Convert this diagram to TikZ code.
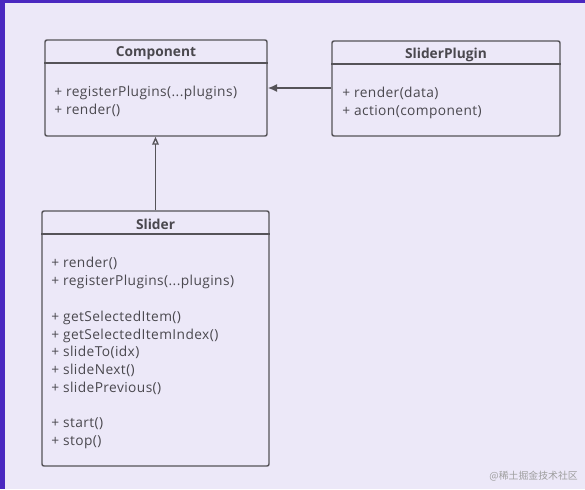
\documentclass[tikz,border=0pt]{standalone}
\usepackage{fontspec}
\setmainfont{Open Sans}
\newfontfamily\memfont[LetterSpace=3]{Open Sans}
\newfontfamily\cjk{Noto Sans CJK SC}
\usetikzlibrary{arrows.meta}
\definecolor{bg}{HTML}{ECE8F8}
\definecolor{frame}{HTML}{4A28C0}
\definecolor{ln}{HTML}{555358}
\definecolor{tx}{HTML}{4A484E}
\tikzset{
  cls/.style={draw=ln, line width=1.1pt, rounded corners=1.5pt, fill=bg},
  ttl/.style={font=\bfseries\fontsize{10.3pt}{12pt}\selectfont, text=tx, inner sep=0pt},
  mem/.style={font=\memfont\fontsize{10.3pt}{12pt}\selectfont, text=tx, anchor=west, inner sep=0pt, text height=7pt, text depth=2pt},
  conn/.style={draw=ln, line width=1.1pt},
}
\begin{document}
\begin{tikzpicture}[x=0.75pt,y=-0.75pt]
\useasboundingbox (0,0) rectangle (585,489);
\fill[bg] (0,0) rectangle (585,489);
\fill[frame] (0,0) rectangle (5,489);
\fill[frame] (0,0) rectangle (585,2.5);
% boxes
\node[cls, minimum width=222*0.75pt, minimum height=96*0.75pt] (comp) at (156,88) {};
\node[cls, minimum width=228*0.75pt, minimum height=95*0.75pt] (plug) at (446,88.5) {};
\node[cls, minimum width=227*0.75pt, minimum height=255*0.75pt] (slider) at (155.5,338.5) {};
% dividers
\draw[conn] (comp.west |- 0,63) -- (comp.east |- 0,63);
\draw[conn] (plug.west |- 0,64) -- (plug.east |- 0,64);
\draw[conn] (slider.west |- 0,234) -- (slider.east |- 0,234);
% titles
\node[ttl] (compT) at (156,53.5) {Component};
\node[ttl] (plugT) at (446,54.5) {SliderPlugin};
\node[ttl] (sliderT) at (155.5,224.5) {Slider};
% members
\node[mem] (c1) at (54,93.5) {+ registerPlugins(...plugins)};
\node[mem] (c2) at (54,111.5) {+ render()};
\node[mem] (p1) at (342,94.5) {+ render(data)};
\node[mem] (p2) at (342,112.5) {+ action(component)};
\node[mem] (s1) at (51,264) {+ render()};
\node[mem] (s2) at (51,282) {+ registerPlugins(...plugins)};
\node[mem] (s3) at (51,318) {+ getSelectedItem()};
\node[mem] (s4) at (51,336) {+ getSelectedItemIndex()};
\node[mem] (s5) at (51,353.5) {+ slideTo(idx)};
\node[mem] (s6) at (51,371.5) {+ slideNext()};
\node[mem] (s7) at (51,389.5) {+ slidePrevious()};
\node[mem] (s8) at (51,424.5) {+ start()};
\node[mem] (s9) at (51,442.5) {+ stop()};
% connectors
\draw[conn, -{Latex[length=7pt,width=6pt]}] (plug.west |- 0,88) -- (comp.east |- 0,88);
\draw[conn, -{Triangle[open,length=6pt,width=5pt,line width=1pt]}] (slider.north) -- (slider.north |- comp.south);
% watermark
\node[font=\cjk\fontsize{7.4pt}{9pt}\selectfont, text=black!38, anchor=east, inner sep=0pt] (wm) at (578,476) {@稀土掘金技术社区};
\end{tikzpicture}
\end{document}
